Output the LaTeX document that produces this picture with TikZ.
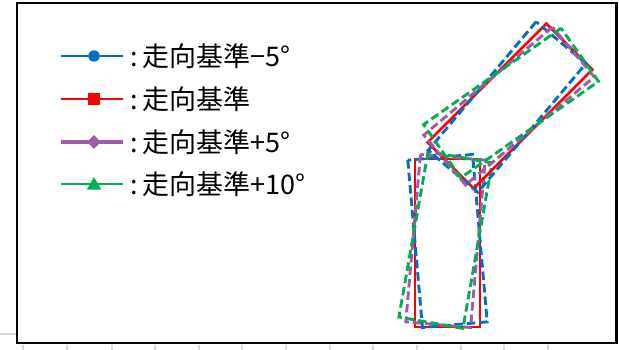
\documentclass[tikz,border=0pt]{standalone}
\usepackage{fontspec}
\newfontfamily\jpfont{Noto Sans CJK JP}
\usetikzlibrary{positioning,shapes.geometric}

\definecolor{serblue}{RGB}{0,112,192}
\definecolor{serred}{RGB}{255,0,0}
\definecolor{serpurple}{RGB}{160,90,170}
\definecolor{sergreen}{RGB}{0,176,80}

\begin{document}
\begin{tikzpicture}[x=1pt, y=-1pt,
	chartframe/.style={draw=black,line width=2.8pt},
	gridmark/.style={draw=black!15,line width=1.5pt},
	solidser/.style={line width=2.7pt},
	dashser/.style={line width=2.9pt,dash pattern=on 8.5pt off 4pt},
	legtext/.style={anchor=west,inner sep=0pt,font=\jpfont\fontsize{27}{30}\selectfont},
	markblue/.style={circle,fill=serblue,inner sep=0pt,minimum size=11.5pt},
	markred/.style={rectangle,fill=serred,inner sep=0pt,minimum size=11.5pt},
	markpurple/.style={diamond,fill=serpurple,inner sep=0pt,minimum size=14pt},
	markgreen/.style={regular polygon,regular polygon sides=3,fill=sergreen,inner sep=0pt,minimum size=17pt}]
	\useasboundingbox (0,0) rectangle (619,350);
	% chart remains behind the frame
	\draw[gridmark] (0,334) -- (17,334);
	\foreach \tx in {23,67,112,155,199,242,286,330,373,417,461,504,548}
		\draw[gridmark] (\tx,345) -- (\tx,350);
	\draw[chartframe] (17,3) rectangle (616.5,343);

	% legend
	\coordinate (lnA1) at (61,56);  \coordinate (lnA2) at (123,56);
	\coordinate (lnB1) at (61,99);  \coordinate (lnB2) at (123,99);
	\coordinate (lnC1) at (61,142); \coordinate (lnC2) at (123,142);
	\coordinate (lnD1) at (61,184); \coordinate (lnD2) at (123,184);
	\draw[serblue,line width=2.2pt] (lnA1) -- (lnA2);
	\draw[serred,line width=2.2pt] (lnB1) -- (lnB2);
	\draw[serpurple,line width=3.8pt] (lnC1) -- (lnC2);
	\draw[sergreen,line width=2.2pt] (lnD1) -- (lnD2);
	\node[markblue] (mkA) at (94,56) {};
	\node[markred] (mkB) at (94,99) {};
	\node[markpurple] (mkC) at (94,142) {};
	\node[markgreen] (mkD) at (94,185.5) {};
	\node[legtext] (txA) at (130,56) {:\,走向基準−5°};
	\node[legtext] (txB) at (130,99) {:\,走向基準};
	\node[legtext] (txC) at (130,142) {:\,走向基準+5°};
	\node[legtext] (txD) at (130,184) {:\,走向基準+10°};

	% lower members
	\draw[solidser,serred] (415,159) rectangle (480,327);
	\draw[dashser,serblue,rotate around={5:(447.5,241)}] (415,157) rectangle (480,325);
	\draw[dashser,serpurple,rotate around={-5:(445.5,241)}] (413,157) rectangle (478,325);
	\draw[dashser,sergreen,rotate around={-10:(445.5,240)}] (413,156) rectangle (478,324);
	% upper members
	\draw[solidser,serred,rotate around={-45:(510,106)}] (477.5,22) rectangle (542.5,190);
	\draw[dashser,serblue,rotate around={-40:(507,107)}] (474.5,23) rectangle (539.5,191);
	\draw[dashser,serpurple,rotate around={-50:(509,106)}] (476.5,22) rectangle (541.5,190);
	\draw[dashser,sergreen,rotate around={-55:(511,103)}] (478.5,19) rectangle (543.5,187);
\end{tikzpicture}
\end{document}
